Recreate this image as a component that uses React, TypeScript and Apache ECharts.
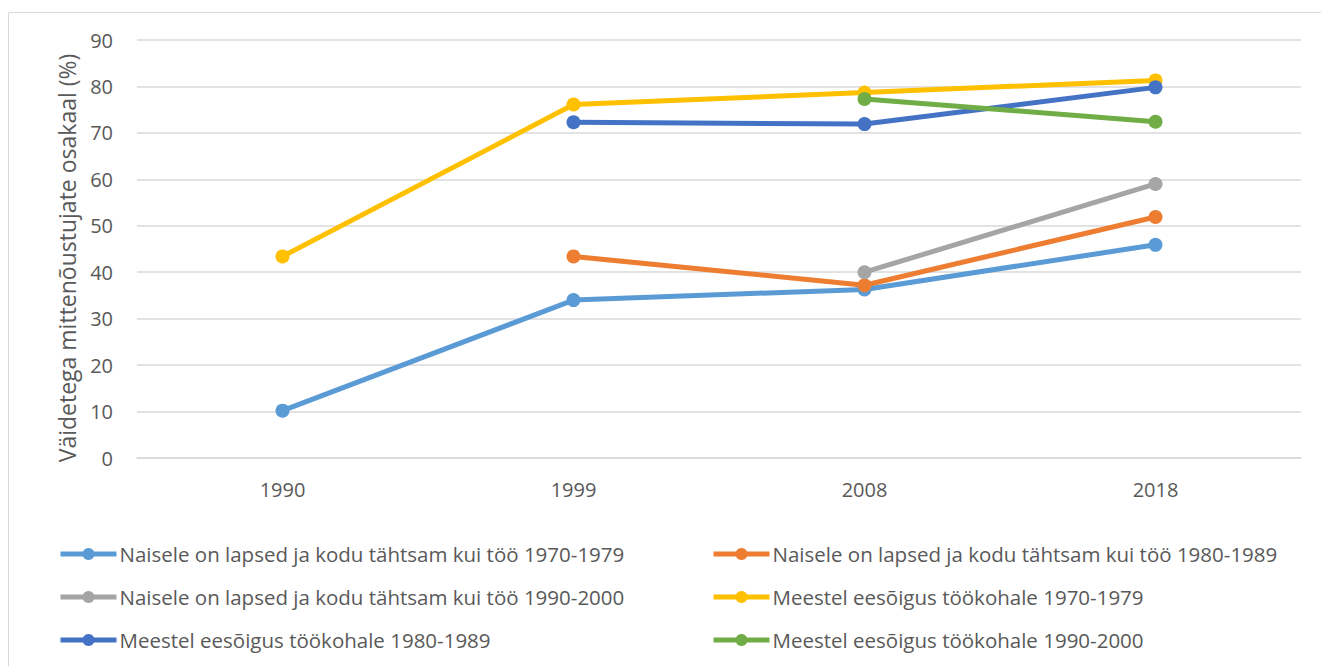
import React, { useEffect, useRef } from "react";
import * as echarts from "echarts";

const categories = ["1990", "1999", "2008", "2018"];
const seriesNames = [
  "Naisele on lapsed ja kodu tähtsam kui töö 1970-1979",
  "Naisele on lapsed ja kodu tähtsam kui töö 1980-1989",
  "Naisele on lapsed ja kodu tähtsam kui töö 1990-2000",
  "Meestel eesõigus töökohale 1970-1979",
  "Meestel eesõigus töökohale 1980-1989",
  "Meestel eesõigus töökohale 1990-2000",
];
const naine7079 = [10.2, 34.0, 36.3, 45.9];
const naine8089 = [null, 43.4, 37.2, 51.9];
const naine9000 = [null, null, 40.0, 59.0];
const mees7079 = [43.4, 76.1, 78.7, 81.3];
const mees8089 = [null, 72.3, 71.9, 79.8];
const mees9000 = [null, null, 77.3, 72.4];
const seriesData = [naine7079, naine8089, naine9000, mees7079, mees8089, mees9000];
const colors = ["#5B9BD5", "#ED7D31", "#A5A5A5", "#FFC000", "#4472C4", "#70AD47"];
const yTicks = { min: 0, max: 90, interval: 10 };

const FONT = "Open Sans";
const TXT = "#595959";

export default function App() {
  const ref = useRef<HTMLDivElement>(null);
  useEffect(() => {
    if (!ref.current) return;
    const chart = echarts.init(ref.current, undefined, { renderer: "svg" });
    const legendCommon = {
      orient: "vertical" as const,
      top: 543,
      padding: 0,
      itemWidth: 56,
      itemHeight: 15,
      itemGap: 21,
      lineStyle: { width: 5 },
      textStyle: { color: TXT, fontFamily: FONT, fontSize: 20.5, lineHeight: 22, padding: [0, 0, 0, -2] },
    };
    chart.setOption({
      animation: false,
      color: colors,
      textStyle: { fontFamily: FONT },
      legend: [
        { ...legendCommon, left: 58, data: [seriesNames[0], seriesNames[2], seriesNames[4]] },
        { ...legendCommon, left: 711, data: [seriesNames[1], seriesNames[3], seriesNames[5]] },
      ],
      grid: { left: 137, right: 20, top: 40, bottom: 208 },
      xAxis: {
        type: "category",
        data: categories,
        boundaryGap: true,
        axisLine: { lineStyle: { color: "#d9d9d9", width: 1.5 } },
        axisTick: { show: false },
        axisLabel: { color: TXT, fontFamily: FONT, fontSize: 20, margin: 21 },
      },
      yAxis: {
        type: "value",
        min: yTicks.min,
        max: yTicks.max,
        interval: yTicks.interval,
        name: "Väidetega mittenõustujate osakaal (%)",
        nameLocation: "middle",
        nameGap: 59,
        nameTextStyle: { color: TXT, fontFamily: FONT, fontSize: 23, padding: [0, 18, 0, 0] },
        axisLine: { show: false },
        axisTick: { show: false },
        splitLine: { lineStyle: { color: "#d9d9d9", width: 1.5 } },
        axisLabel: { color: TXT, fontFamily: FONT, fontSize: 20, margin: 24 },
      },
      graphic: [
        {
          type: "polyline",
          shape: { points: [[8.5, 666], [8.5, 12.5], [1321, 12.5]] },
          style: { stroke: "#d9d9d9", lineWidth: 1, fill: "none" },
          silent: true,
        },
      ],
      series: seriesData.map((d, i) => ({
        name: seriesNames[i],
        type: "line",
        data: d,
        symbol: "circle",
        symbolSize: 14,
        connectNulls: false,
        lineStyle: { width: 5, color: colors[i] },
        itemStyle: { color: colors[i] },
      })),
    });
    return () => chart.dispose();
  }, []);
  return (
    <div
      ref={ref}
      style={{ position: "absolute", left: 0, top: 0, width: 1321, height: 666, background: "#fff" }}
    />
  );
}
